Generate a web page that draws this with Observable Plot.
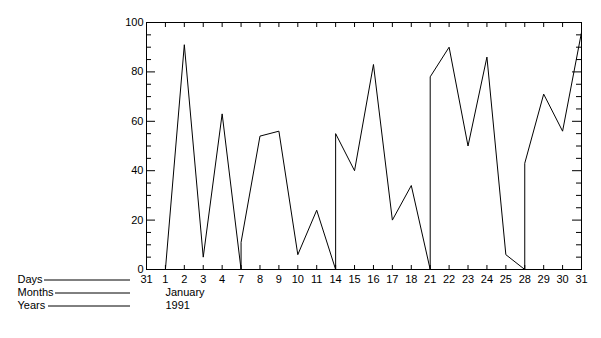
<!DOCTYPE html>
<html><head><meta charset="utf-8">
<script src="https://cdn.jsdelivr.net/npm/d3@7"></script>
<script src="https://cdn.jsdelivr.net/npm/@observablehq/plot@0.6"></script>
<style>body{margin:0;background:#fff;} svg{display:block}</style>
</head><body><div id="chart"></div>
<script>
// x categories (business days), and their tick labels
const dates = ["1990-12-31","1991-01-01","1991-01-02","1991-01-03","1991-01-04","1991-01-07","1991-01-08","1991-01-09","1991-01-10","1991-01-11","1991-01-14","1991-01-15","1991-01-16","1991-01-17","1991-01-18","1991-01-21","1991-01-22","1991-01-23","1991-01-24","1991-01-25","1991-01-28","1991-01-29","1991-01-30","1991-01-31"];
const dayLabels = ["31","1","2","3","4","7","8","9","10","11","14","15","16","17","18","21","22","23","24","25","28","29","30","31"];
const monthDates = ["1991-01-01"];
const monthLabels = ["January"];
const yearDates = ["1991-01-01"];
const yearLabels = ["1991"];
const rowLabels = ["Days","Months","Years"];

// series
const obsDates = ["1991-01-01","1991-01-02","1991-01-03","1991-01-04","1991-01-07","1991-01-07","1991-01-08","1991-01-09","1991-01-10","1991-01-11","1991-01-14","1991-01-14","1991-01-15","1991-01-16","1991-01-17","1991-01-18","1991-01-21","1991-01-21","1991-01-22","1991-01-23","1991-01-24","1991-01-25","1991-01-28","1991-01-28","1991-01-29","1991-01-30","1991-01-31"];
const obsValues = [0,91,5,63,0,11,54,56,6,24,0,55,40,83,20,34,0,78,90,50,86,6,0,43,71,56,96];

// y ticks
const yMajor = [0,20,40,60,80,100];
const yMinor = [5,10,15,25,30,35,45,50,55,65,70,75,85,90,95];

const W = 601, H = 338, mL = 146, mR = 20, mT = 22, mB = 69;
const pw = W - mL - mR, ph = H - mT - mB;
const font = "Liberation Sans, Arial, Helvetica, sans-serif";
const fs = 11;
const pos = d => dates.indexOf(d);
const data = obsDates.map((d, i) => ({x: pos(d), value: obsValues[i]}));

const rowMarks = rowLabels.flatMap((lab, i) => {
  const dy = 10 + 13 * i;
  const textEnd = [44, 55, 48][i];
  return [
    Plot.text([lab], {text: d => d, frameAnchor: "bottom-left", dx: 17 - mL, dy, textAnchor: "start", lineAnchor: "middle", fontSize: fs, fill: "black"}),
    Plot.ruleY([0], {stroke: "black", dy: dy + 0.5, insetLeft: -(mL - textEnd), insetRight: (W - mR) - 130})
  ];
});

const chart = Plot.plot({
  width: W, height: H,
  marginLeft: mL, marginRight: mR, marginTop: mT, marginBottom: mB,
  style: {fontFamily: font, fontSize: fs + "px", background: "white", color: "black", overflow: "visible"},
  x: {type: "linear", domain: [0, dates.length - 1], axis: null},
  y: {domain: [0, 100], axis: null},
  marks: [
    Plot.frame({stroke: "black", strokeWidth: 1}),
    // y ticks inward, left and right
    Plot.ruleY(yMajor, {stroke: "black", insetRight: pw - 9}),
    Plot.ruleY(yMinor, {stroke: "black", insetRight: pw - 5}),
    Plot.ruleY(yMajor, {stroke: "black", insetLeft: pw - 9}),
    Plot.ruleY(yMinor, {stroke: "black", insetLeft: pw - 5}),
    // x ticks inward, top and bottom
    Plot.ruleX(dates, {x: d => pos(d), stroke: "black", insetBottom: ph - 5}),
    Plot.ruleX(dates, {x: d => pos(d), stroke: "black", insetTop: ph - 4}),
    // y tick labels
    Plot.text(yMajor, {y: d => d, text: d => String(d), frameAnchor: "left", dx: -3, textAnchor: "end", fontSize: fs, fill: "black"}),
    // x tick labels
    Plot.text(dates, {x: d => pos(d), text: (d, i) => dayLabels[i], frameAnchor: "bottom", dy: 10, lineAnchor: "middle", fontSize: fs, fill: "black"}),
    Plot.text(monthDates, {x: d => pos(d), text: (d, i) => monthLabels[i], frameAnchor: "bottom", dy: 23, textAnchor: "start", lineAnchor: "middle", fontSize: fs, fill: "black"}),
    Plot.text(yearDates, {x: d => pos(d), text: (d, i) => yearLabels[i], frameAnchor: "bottom", dy: 36, textAnchor: "start", lineAnchor: "middle", fontSize: fs, fill: "black"}),
    ...rowMarks,
    // series line
    Plot.line(data, {x: "x", y: "value", stroke: "black", strokeWidth: 1})
  ]
});
document.getElementById("chart").append(chart);
</script></body></html>
